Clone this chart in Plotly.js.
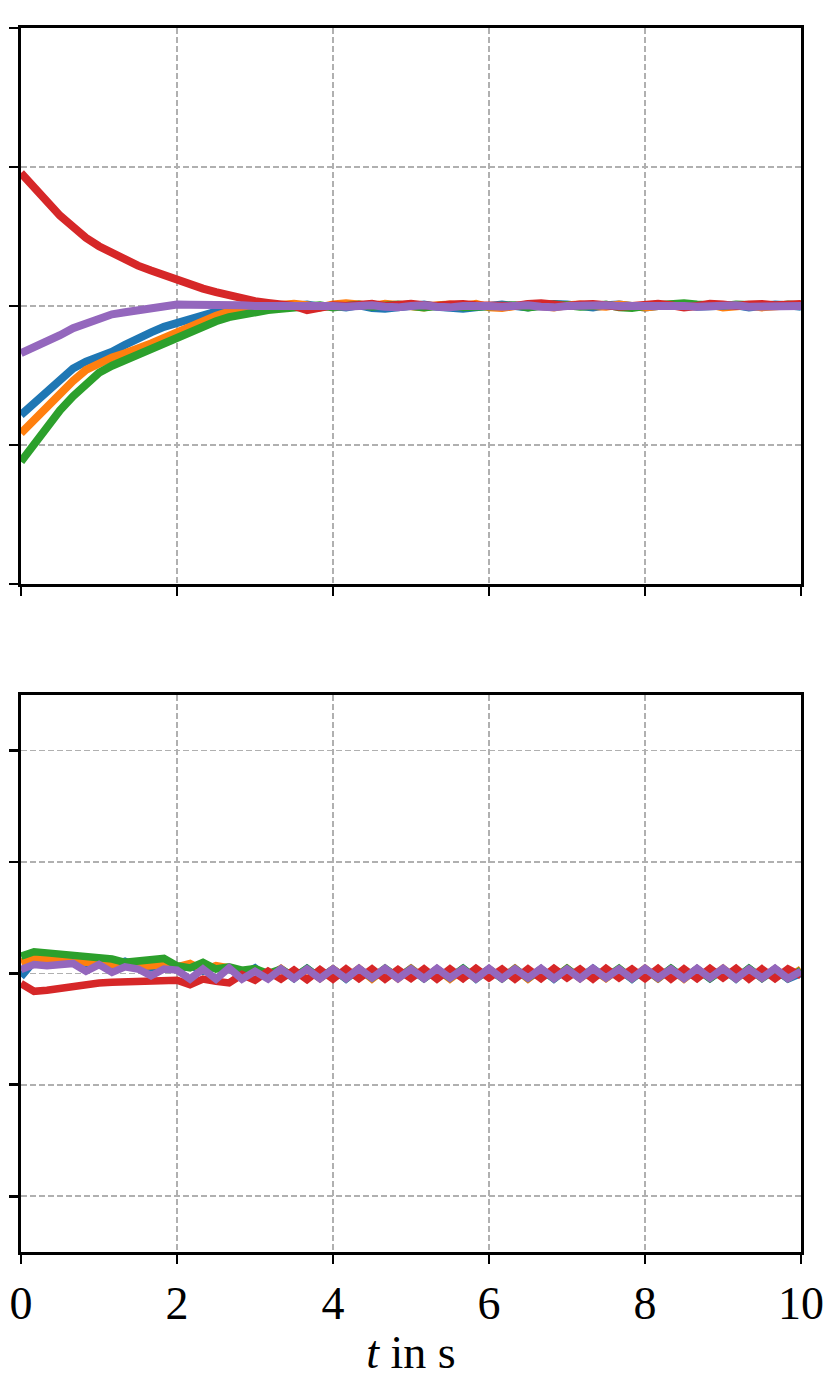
<!DOCTYPE html>
<html>
<head>
<meta charset="utf-8">
<script src="https://cdn.plot.ly/plotly-3.0.1.min.js"></script>
<style>html,body{margin:0;padding:0;background:#fff;}#chart{width:831px;height:1385px;}</style>
</head>
<body>
<div id="chart"></div>
<script>
const time = [0,0.167,0.333,0.5,0.667,0.833,1,1.167,1.333,1.5,
1.667,1.833,2,2.167,2.333,2.5,2.667,2.833,3,3.167,
3.333,3.5,3.667,3.833,4,4.167,4.333,4.5,4.667,4.833,
5,5.167,5.333,5.5,5.667,5.833,6,6.167,6.333,6.5,
6.667,6.833,7,7.167,7.333,7.5,7.667,7.833,8,8.167,
8.333,8.5,8.667,8.833,9,9.167,9.333,9.5,9.667,9.833,
10];

const xTicks = [0,2,4,6,8,10];
const xTickLabels = ["0","2","4","6","8","10"];
const xTitle = "<i>t</i> in s";

// upper panel
const topBlue = [-0.784,-0.70,-0.62,-0.53,-0.45,-0.40,-0.37,-0.33,-0.28,-0.23,
-0.19,-0.15,-0.12,-0.09,-0.06,-0.04,-0.02,-0.01,0.00,0.005,
-0.01,0.00,0.01,-0.005,0.00,-0.01,0.005,-0.015,-0.02,-0.01,
0.00,0.01,-0.005,-0.015,-0.02,-0.01,0.005,0.01,0.00,-0.01,
0.005,0.015,0.01,0.00,-0.01,0.005,0.01,0.00,-0.01,0.00,
0.005,0.01,-0.005,0.00,0.01,0.005,-0.01,0.00,0.01,0.005,
-0.005];
const topOrange = [-0.916,-0.82,-0.73,-0.63,-0.54,-0.46,-0.41,-0.37,-0.34,-0.31,
-0.27,-0.23,-0.19,-0.14,-0.10,-0.07,-0.04,-0.02,-0.01,0.00,
0.01,0.015,0.005,-0.01,0.01,0.02,0.01,0.00,0.015,0.01,
0.00,-0.01,0.005,0.01,0.00,0.015,-0.01,-0.015,0.00,0.01,
0.00,-0.01,0.005,0.01,0.00,-0.005,0.01,0.005,-0.01,0.00,
0.01,-0.005,0.00,0.01,-0.01,0.00,0.005,-0.01,0.00,0.005,
0.01];
const topGreen = [-1.12,-0.99,-0.86,-0.75,-0.65,-0.56,-0.48,-0.43,-0.39,-0.35,
-0.30,-0.26,-0.22,-0.18,-0.14,-0.11,-0.08,-0.06,-0.04,-0.03,
-0.02,-0.01,0.00,0.005,-0.01,0.00,0.01,-0.005,0.00,0.01,
0.00,-0.01,0.00,0.005,-0.01,-0.005,0.00,0.01,0.005,-0.01,
0.00,0.01,0.005,-0.005,0.00,0.01,-0.01,-0.015,0.00,0.005,
0.015,0.02,0.01,0.005,0.00,0.01,0.005,-0.005,0.00,0.01,
0.005];
const topRed = [0.957,0.85,0.74,0.65,0.57,0.49,0.43,0.38,0.33,0.29,
0.255,0.22,0.187,0.15,0.125,0.10,0.075,0.055,0.035,0.022,
0.01,0.00,-0.03,-0.01,0.005,0.00,0.01,0.015,0.00,0.01,
0.015,0.005,0.00,0.01,0.015,0.005,0.00,-0.005,0.00,0.015,
0.02,0.01,0.00,0.01,0.015,0.005,-0.005,0.00,0.01,0.015,
0.005,-0.01,0.00,0.015,0.01,0.00,0.01,0.015,0.005,0.01,
0.015];
const topPurple = [-0.34,-0.30,-0.26,-0.21,-0.16,-0.13,-0.09,-0.06,-0.045,-0.03,
-0.015,-0.005,0.01,0.008,0.01,-0.002,0.00,0.005,0.00,0.002,
0.00,-0.005,0.00,0.005,0.00,-0.005,0.00,0.005,-0.005,-0.01,
0.00,0.005,-0.005,-0.01,0.00,0.005,0.00,-0.005,0.00,0.005,
-0.005,-0.01,0.00,0.005,0.00,0.005,0.00,-0.005,0.00,0.00,
0.005,0.00,-0.005,0.00,0.005,0.005,-0.005,-0.005,0.00,0.005,
0.00];

// lower panel
const botBlue = [-0.03,0.11,0.11,0.10,0.09,0.09,0.08,0.07,0.11,0.06,
0.05,0.06,0.04,0.07,0.02,0.06,0.04,-0.01,0.05,-0.04,
0.04,-0.045,0.045,-0.04,0.04,-0.05,0.04,-0.045,0.04,-0.04,
0.045,-0.045,0.04,-0.04,0.045,-0.05,0.035,-0.045,0.045,-0.045,
0.04,-0.05,0.04,-0.04,0.045,-0.04,0.035,-0.05,0.04,-0.045,
0.045,-0.045,0.04,-0.045,0.04,-0.05,0.045,-0.045,0.035,-0.05,
0.00];
const botOrange = [0.10,0.14,0.13,0.12,0.11,0.10,0.09,0.085,0.07,0.06,
0.07,0.08,0.06,0.09,0.03,0.07,0.05,0.00,0.04,-0.03,
0.045,-0.04,0.035,-0.045,0.04,-0.04,0.045,-0.05,0.04,-0.045,
0.045,-0.04,0.04,-0.05,0.035,-0.045,0.04,-0.04,0.045,-0.05,
0.04,-0.04,0.045,-0.045,0.035,-0.045,0.04,-0.04,0.045,-0.045,
0.04,-0.05,0.04,-0.04,0.045,-0.045,0.035,-0.04,0.04,-0.04,
0.04];
const botGreen = [0.156,0.195,0.185,0.175,0.165,0.155,0.145,0.13,0.10,0.11,
0.115,0.135,0.07,0.05,0.10,0.04,0.06,0.03,0.045,0.00,
0.04,-0.03,0.045,-0.04,0.035,-0.045,0.04,-0.04,0.045,-0.035,
0.04,-0.045,0.035,-0.04,0.045,-0.04,0.04,-0.045,0.04,-0.04,
0.035,-0.045,0.045,-0.04,0.04,-0.035,0.045,-0.045,0.04,-0.04,
0.045,-0.04,0.04,-0.045,0.035,-0.04,0.045,-0.04,0.04,-0.045,
0.03];
const botRed = [-0.09,-0.16,-0.15,-0.13,-0.11,-0.095,-0.085,-0.078,-0.072,-0.067,
-0.062,-0.058,-0.06,-0.10,-0.05,-0.07,-0.085,-0.01,-0.06,0.02,
-0.05,0.03,-0.055,0.035,-0.05,0.04,-0.045,0.04,-0.05,0.035,
-0.045,0.04,-0.05,0.04,-0.045,0.045,-0.04,0.04,-0.05,0.04,
-0.045,0.045,-0.04,0.04,-0.05,0.045,-0.04,0.04,-0.045,0.045,
-0.05,0.04,-0.045,0.045,-0.04,0.045,-0.05,0.04,-0.045,0.04,
-0.02];
const botPurple = [0.036,0.08,0.07,0.075,0.09,0.02,0.08,0.01,0.06,0.04,
-0.02,0.04,0.03,-0.05,0.04,-0.05,0.05,-0.05,0.02,-0.05,
0.04,-0.045,0.04,-0.045,0.04,-0.045,0.045,-0.04,0.045,-0.045,
0.04,-0.045,0.045,-0.04,0.04,-0.045,0.045,-0.045,0.04,-0.04,
0.045,-0.045,0.04,-0.045,0.045,-0.04,0.04,-0.045,0.045,-0.04,
0.04,-0.045,0.045,-0.04,0.045,-0.045,0.04,-0.04,0.045,-0.045,
0.02];

const colors = ["#1f77b4","#ff7f0e","#2ca02c","#d62728","#9467bd"];
const topSeries = [topBlue, topOrange, topGreen, topRed, topPurple];
const botSeries = [botBlue, botOrange, botGreen, botRed, botPurple];

const traces = [];
topSeries.forEach((ys, i) => traces.push({
  x: time, y: ys, type: "scatter", mode: "lines", xaxis: "x", yaxis: "y",
  line: {color: colors[i], width: 8}, showlegend: false, hoverinfo: "skip"
}));
botSeries.forEach((ys, i) => traces.push({
  x: time, y: ys, type: "scatter", mode: "lines", xaxis: "x2", yaxis: "y2",
  line: {color: colors[i], width: 7.5}, showlegend: false, hoverinfo: "skip"
}));

const fontFam = "Liberation Serif, DejaVu Serif, serif";
const axisCommon = {
  showline: true, linecolor: "#000", linewidth: 2.8, mirror: true,
  ticks: "outside", ticklen: 9, tickwidth: 2.8, tickcolor: "#000",
  showgrid: true, gridcolor: "#b0b0b0", gridwidth: 1.6, griddash: "6px,3px",
  zeroline: false
};

const layout = {
  width: 831, height: 1385,
  margin: {l: 21, r: 30, t: 28, b: 133},
  paper_bgcolor: "#fff", plot_bgcolor: "#fff",
  font: {family: fontFam, color: "#000", size: 46},
  xaxis: Object.assign({}, axisCommon, {
    domain: [0, 1], anchor: "y", range: [0, 10], tickvals: xTicks,
    showticklabels: false
  }),
  yaxis: Object.assign({}, axisCommon, {
    domain: [0.5458, 1], anchor: "x", range: [-2, 2], dtick: 1, tick0: 0,
    showticklabels: false
  }),
  xaxis2: Object.assign({}, axisCommon, {
    domain: [0, 1], anchor: "y2", range: [0, 10], tickvals: xTicks,
    ticktext: xTickLabels, showticklabels: true,
    tickfont: {family: fontFam, size: 46, color: "#000"},
    title: {text: xTitle, font: {family: fontFam, size: 46, color: "#000"}, standoff: 8}
  }),
  yaxis2: Object.assign({}, axisCommon, {
    domain: [0, 0.4551], anchor: "x2", range: [-2.5, 2.5], dtick: 1, tick0: 0,
    showticklabels: false
  })
};

Plotly.newPlot("chart", traces, layout, {staticPlot: true, displayModeBar: false});
</script>
</body>
</html>
